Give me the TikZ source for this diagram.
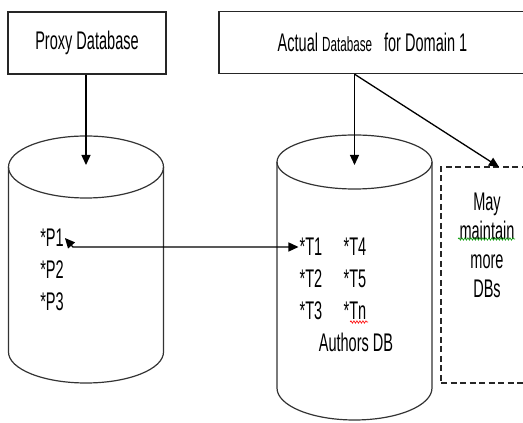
\documentclass[tikz,border=0pt]{standalone}
\usepackage{fontspec}
\setmainfont{Liberation Sans}[FakeStretch=0.57]
\usepackage{tikz}
\usetikzlibrary{arrows.meta, decorations.pathmorphing}
\tikzstyle{dbbox} = [rectangle, minimum height=62pt, text centered, draw=black!85, line width=1.3pt, inner sep=0pt, font=\fontsize{25.5pt}{28pt}\selectfont]
\tikzstyle{entry} = [inner sep=1pt, font=\fontsize{25.5pt}{28pt}\selectfont]
\tikzstyle{arrow} = [line width=1.3pt, -{Triangle[length=10pt,width=9pt]}]
\tikzstyle{dbline} = [line width=1.2pt, draw=black!80]
\tikzstyle{spell} = [decorate, decoration={snake, amplitude=1.2pt, segment length=3pt}, line width=0.6pt]

\begin{document}
\begin{tikzpicture}[x=1pt, y=1pt, node distance=32pt]
    \useasboundingbox (0,0) rectangle (523,423);
    % top boxes
    \node (proxy) [dbbox, minimum width=158pt] at (87,380) {Proxy Database};
    \node (actual) [dbbox, minimum width=307pt] at (372.5,380.5) {Actual {\fontsize{20.5pt}{22pt}\selectfont Database}\hspace{12pt}for Domain 1};

    % databases
    \draw [dbline] (8.5,256) -- (8.5,71) arc[start angle=180, end angle=360, x radius=77.5, y radius=31] -- (163.5,256);
    \draw [dbline] (86,256) ellipse [x radius=77.5, y radius=31];
    \coordinate (proxytop) at (86,258);
    \draw [dbline] (277,261) -- (277,35) arc[start angle=180, end angle=360, x radius=77.5, y radius=32] -- (432,261);
    \draw [dbline] (354.5,261) ellipse [x radius=77.5, y radius=27];
    \coordinate (authorstop) at (354.5,258);

    \node (more) [draw=black!85, line width=1.3pt, dash pattern=on 6pt off 3.5pt, minimum width=92pt, minimum height=216pt, inner sep=0pt] at (487,148) {};
    \node (moretext) [entry, align=center, font=\fontsize{25.5pt}{29pt}\selectfont] at (487,178) {May\\maintain\\more\\DBs};
    \coordinate (moretip) at (499,256);

    % entries
    \node (p1) [entry] at (52,185) {*P1};
    \node (p2) [entry, below of=p1] {*P2};
    \node (p3) [entry, below of=p2] {*P3};
    \node (t1) [entry] at (311,176) {*T1};
    \node (t4) [entry, right of=t1, xshift=12pt] {*T4};
    \node (t2) [entry, below of=t1] {*T2};
    \node (t5) [entry, below of=t4] {*T5};
    \node (t3) [entry, below of=t2] {*T3};
    \node (tn) [entry, below of=t5] {*Tn};
    \node (authors) [entry] at (356,81) {Authors DB};
    \draw [spell, green!60!black] (458,184) -- (515,184);
    \draw [spell, red] (350,101) -- (368,101);

    \draw [arrow] (proxy.south -| proxytop) -- (proxytop);
    \draw [arrow] (actual.south -| authorstop) -- (authorstop);
    \draw [arrow] (actual.south -| authorstop) -- (moretip);
    \draw [arrow, {Triangle[length=10pt,width=9pt]}-{Triangle[length=10pt,width=9pt]}] (p1.east) -- ++(8,-9) -- (t1.west);
\end{tikzpicture}
\end{document}
